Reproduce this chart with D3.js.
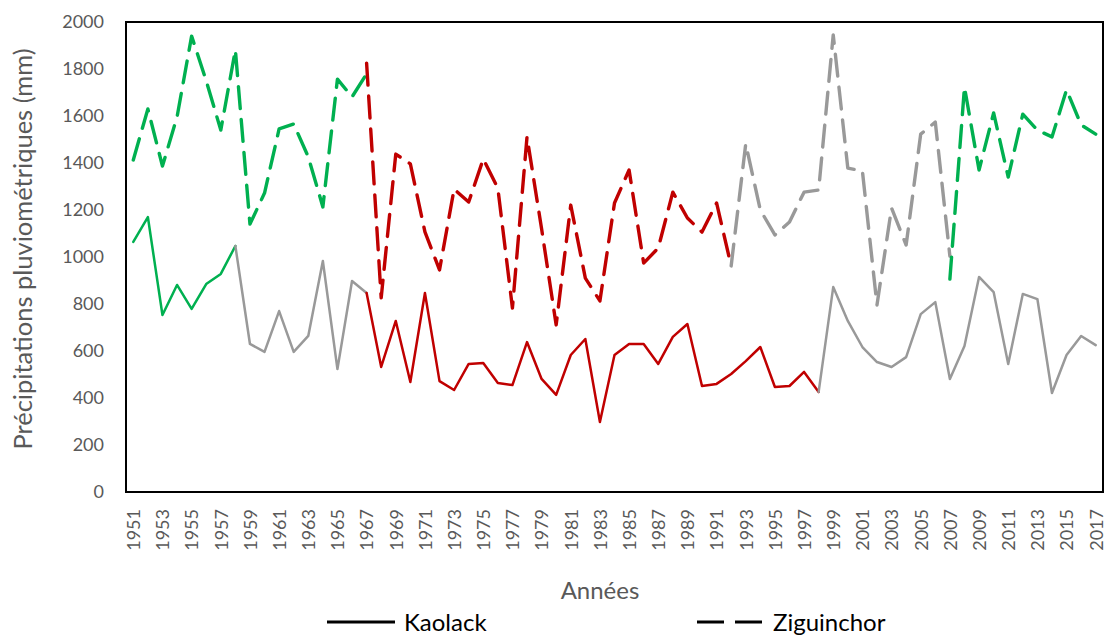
<!DOCTYPE html>
<html>
<head>
<meta charset="utf-8">
<script src="https://cdn.jsdelivr.net/npm/d3@7"></script>
<style>
  html, body { margin: 0; padding: 0; background: #fff; }
  svg { display: block; font-family: Lato, "Open Sans", sans-serif; }
</style>
</head>
<body>
<svg id="chart" width="1107" height="635"></svg>
<script>
// ---- Data ----
const years = d3.range(1951, 2018);
const yTicks = [0, 200, 400, 600, 800, 1000, 1200, 1400, 1600, 1800, 2000];
const xTickYears = years.filter((yr, i) => i % 2 === 0);

// Kaolack (solid) segments
const kaoGreenYears = [1951, 1958];
const kaoGreen = [1064, 1170, 753, 881, 779, 885, 928, 1047];
const kaoGray1Years = [1958, 1967];
const kaoGray1 = [1047, 630, 596, 770, 596, 664, 983, 523, 898, 847];
const kaoRedYears = [1967, 1998];
const kaoRed = [847, 532, 728, 468, 847, 472, 434, 545, 549, 464, 455, 638, 481, 413, 583, 651, 298,
                583, 630, 630, 545, 660, 715, 451, 460, 502, 557, 617, 447, 451, 511, 426];
const kaoGray2Years = [1998, 2017];
const kaoGray2 = [426, 872, 728, 617, 553, 532, 574, 757, 808, 481, 621, 915, 851, 545, 843, 821, 421, 583, 664, 625];

// Ziguinchor (dashed) segments
const zigGreen1Years = [1951, 1967];
const zigGreen1 = [1413, 1630, 1387, 1596, 1940, 1750, 1540, 1881, 1140, 1272, 1545, 1566, 1426, 1213, 1757, 1681, 1779];
const zigRedYears = [1967, 1992];
const zigRed = [1825, 826, 1438, 1396, 1107, 945, 1289, 1234, 1417, 1293, 783, 1511, 1120, 711, 1221, 910, 813,
                1230, 1370, 974, 1038, 1276, 1166, 1106, 1230, 962];
const zigGrayYears = [1992, 2007];
const zigGray = [962, 1481, 1200, 1094, 1149, 1276, 1285, 1945, 1378, 1366, 796, 1208, 1051, 1523, 1574, 1004];
const zigGreen2Years = [2007, 2017];
const zigGreen2 = [906, 1723, 1370, 1613, 1340, 1608, 1540, 1511, 1711, 1562, 1523];

const GREEN = "#00B050", RED = "#C00000", GRAY = "#999999";

const segments = [
  { yrs: kaoGreenYears, vals: kaoGreen, color: GREEN, dashed: false },
  { yrs: kaoGray1Years, vals: kaoGray1, color: GRAY, dashed: false },
  { yrs: kaoRedYears, vals: kaoRed, color: RED, dashed: false },
  { yrs: kaoGray2Years, vals: kaoGray2, color: GRAY, dashed: false },
  { yrs: zigGreen1Years, vals: zigGreen1, color: GREEN, dashed: true },
  { yrs: zigRedYears, vals: zigRed, color: RED, dashed: true },
  { yrs: zigGrayYears, vals: zigGray, color: GRAY, dashed: true },
  { yrs: zigGreen2Years, vals: zigGreen2, color: GREEN, dashed: true }
];

// ---- Layout ----
const svg = d3.select("#chart");
const plotLeft = 126, plotRight = 1103, plotTop = 22, plotBottom = 492;

const x = d3.scalePoint().domain(years).range([plotLeft, plotRight]).padding(0.5);
const y = d3.scaleLinear().domain([0, 2000]).range([plotBottom, plotTop]);

const FONT = "Lato, 'Open Sans', sans-serif";

// Y axis labels
const yAxis = d3.axisLeft(y).tickValues(yTicks).tickSize(0).tickPadding(22).tickFormat(d3.format("d"));
svg.append("g").attr("transform", `translate(${plotLeft},0)`).call(yAxis)
  .call(g => g.select(".domain").remove())
  .call(g => g.selectAll("text").attr("fill", "#595959").style("font-size", "18px")
        .style("font-family", FONT));

// X axis labels
const xAxis = d3.axisBottom(x).tickValues(xTickYears).tickSize(0).tickPadding(0);
svg.append("g").attr("transform", `translate(0,${plotBottom})`).call(xAxis)
  .call(g => g.select(".domain").remove())
  .call(g => g.selectAll("text")
    .attr("fill", "#595959").style("font-size", "18px")
    .style("font-family", FONT)
    .attr("transform", "rotate(-90)")
    .attr("text-anchor", "end")
    .attr("x", -17).attr("y", 0).attr("dy", "0.35em"));

// Lines
const line = d3.line().x(d => x(d.year)).y(d => y(d.value));
segments.forEach(s => {
  const pts = s.vals.map((v, i) => ({ year: s.yrs[0] + i, value: v }));
  svg.append("path")
    .datum(pts)
    .attr("d", line)
    .attr("fill", "none")
    .attr("stroke", s.color)
    .attr("stroke-width", s.dashed ? 3.4 : 2.5)
    .attr("stroke-linejoin", "round")
    .attr("stroke-linecap", "round")
    .attr("stroke-dasharray", s.dashed ? "22,11" : null);
});

// Plot frame
svg.append("rect")
  .attr("x", plotLeft).attr("y", plotTop)
  .attr("width", plotRight - plotLeft).attr("height", plotBottom - plotTop)
  .attr("fill", "none").attr("stroke", "#000").attr("stroke-width", 2);

// Axis titles
svg.append("text")
  .attr("x", 600).attr("y", 599)
  .attr("text-anchor", "middle")
  .attr("fill", "#595959").style("font-size", "24px")
  .text("Années");

svg.append("text")
  .attr("transform", "translate(32,249) rotate(-90)")
  .attr("text-anchor", "middle")
  .attr("fill", "#595959").style("font-size", "25.5px")
  .text("Précipitations pluviométriques (mm)");

// Legend
const lg = svg.append("g");
lg.append("line").attr("x1", 327).attr("x2", 395).attr("y1", 622).attr("y2", 622)
  .attr("stroke", "#000").attr("stroke-width", 3);
lg.append("text").attr("x", 404).attr("y", 631).attr("fill", "#000").style("font-size", "24px").text("Kaolack");
lg.append("line").attr("x1", 697).attr("x2", 762).attr("y1", 622).attr("y2", 622)
  .attr("stroke", "#000").attr("stroke-width", 3).attr("stroke-dasharray", "27,11");
lg.append("text").attr("x", 773).attr("y", 631).attr("fill", "#000").style("font-size", "24px").text("Ziguinchor");
</script>
</body>
</html>
